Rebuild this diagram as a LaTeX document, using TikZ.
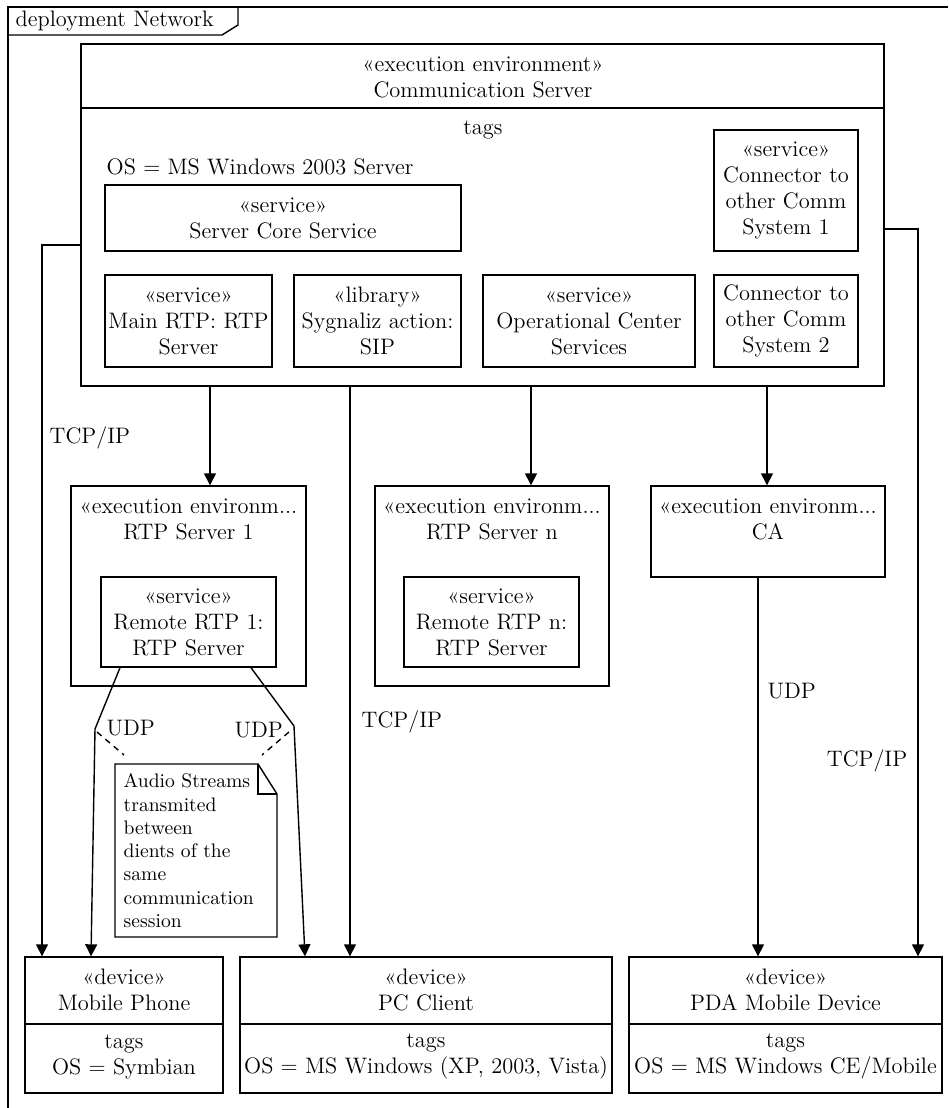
\documentclass[tikz,border=0pt]{standalone}
\usepackage{fontspec}
\usetikzlibrary{arrows.meta,fit,calc}
\begin{document}
\begin{tikzpicture}[x=0.5pt,y=-0.5pt,
  line width=0.7pt,
  box/.style={draw, inner sep=0pt},
  txt/.style={inner sep=0pt, align=center, font=\fontsize{11.2}{13}\selectfont},
  lbl/.style={inner sep=0pt, anchor=west, font=\fontsize{11.2}{13}\selectfont},
  notetxt/.style={inner sep=0pt, anchor=north west, align=left, font=\fontsize{9.8}{11.65}\selectfont},
  arr/.style={-{Triangle[length=6pt,width=6pt]}},
  dsh/.style={dash pattern=on 3pt off 2.5pt},
]
\useasboundingbox (0,0) rectangle (948,1108);
% frame
\draw (8,1108) -- (8,7) -- (948,7);
\draw (8,35) -- (222,35) -- (238,25) -- (238,7);
\node[lbl] (title) at (15,21) {deployment Network};

% Communication server
\node[box, fit={(81,44)(884,386)}] (cs) {};
\draw (cs.north west |- 0,108) -- (cs.north east |- 0,108);
\node[txt] (cst) at (483,77) {«execution environment»\\Communication Server};
\node[txt] (cstags) at (483,130) {tags};
\node[lbl] (csos) at (106,167) {OS = MS Windows 2003 Server};

\node[box, fit={(105,185)(461,251)}] (core) {};
\node[txt] at (core.center) (coret) {«service»\\Server Core Service};
\node[box, fit={(714,130)(858,251)}] (con1) {};
\node[txt] at (con1.center) (con1t) {«service»\\Connector to\\other Comm\\System 1};

\node[box, fit={(105,275)(272,367)}] (mrtp) {};
\node[txt] at (mrtp.center) (mrtpt) {«service»\\Main RTP: RTP\\Server};
\node[box, fit={(294,275)(461,367)}] (lib) {};
\node[txt] at (lib.center) (libt) {«library»\\Sygnaliz action:\\SIP};
\node[box, fit={(483,275)(695,367)}] (ops) {};
\node[txt] at (ops.center) (opst) {«service»\\Operational Center\\Services};
\node[box, fit={(714,275)(858,367)}] (con2) {};
\node[txt] at (con2.center) (con2t) {Connector to\\other Comm\\System 2};

% RTP servers
\node[box, fit={(71,486)(306,686)}] (rtp1) {};
\node[txt] (rtp1t) at (188.5,519) {«execution environm...\\RTP Server 1};
\node[box, fit={(101,577)(276,667)}] (rr1) {};
\node[txt] at (rr1.center) (rr1t) {«service»\\Remote RTP 1:\\RTP Server};

\node[box, fit={(375,486)(609,686)}] (rtpn) {};
\node[txt] (rtpnt) at (492,519) {«execution environm...\\RTP Server n};
\node[box, fit={(404,577)(579,667)}] (rrn) {};
\node[txt] at (rrn.center) (rrnt) {«service»\\Remote RTP n:\\RTP Server};

\node[box, fit={(651,486)(885,577)}] (ca) {};
\node[txt] (cat) at (768,519) {«execution environm...\\CA};

% devices
\node[box, fit={(25,957)(223,1093)}] (mob) {};
\draw (mob.west |- 0,1024) -- (mob.east |- 0,1024);
\node[txt] (mobt) at (124,990) {«device»\\Mobile Phone};
\node[txt] (mobg) at (124,1056.5) {tags\\OS = Symbian};

\node[box, fit={(240,957)(612,1093)}] (pc) {};
\draw (pc.west |- 0,1024) -- (pc.east |- 0,1024);
\node[txt] (pct) at (426,990) {«device»\\PC Client};
\node[txt] (pcg) at (426,1056.5) {tags\\OS = MS Windows (XP, 2003, Vista)};

\node[box, fit={(629,957)(942,1093)}] (pda) {};
\draw (pda.west |- 0,1024) -- (pda.east |- 0,1024);
\node[txt] (pdat) at (785.5,990) {«device»\\PDA Mobile Device};
\node[txt] (pdag) at (785.5,1056.5) {tags\\OS = MS Windows CE/Mobile};

% note
\draw (115,764) -- (258,764) -- (277,794) -- (277,937) -- (115,937) -- cycle;
\draw (258,764) -- (258,794) -- (277,794);
\node[notetxt] (note) at (123,773) {Audio Streams\\transmited\\between\\dients of the\\same\\communication\\session};

% connectors
\draw[arr] (cs.west |- 0,245) -- (42,245) -- (mob.north -| 42,0);
\draw[arr] (cs.east |- 0,229) -- (918,229) -- (pda.north -| 918,0);
\draw[arr] (cs.south -| 210,0) -- (rtp1.north -| 210,0);
\draw[arr] (cs.south -| 531,0) -- (rtpn.north -| 531,0);
\draw[arr] (cs.south -| 767,0) -- (ca.north -| 767,0);
\draw[arr] (cs.south -| 350,0) -- (pc.north -| 350,0);
\draw[arr] (ca.south -| 758,0) -- (pda.north -| 758,0);
\coordinate (b1) at (95,729);
\coordinate (b2) at (294,726);
\draw[arr] (rr1.south -| 120,0) -- (b1) -- (mob.north -| 91,0);
\draw[arr] (rr1.south -| 251,0) -- (b2) -- (pc.north -| 305,0);
\coordinate (n1) at (124,755);
\coordinate (n2) at (262,755);
\draw[dsh] ($(b1)+(2,3)$) -- (n1);
\draw[dsh] ($(b2)+(-5,6)$) -- (n2);

% labels
\node[lbl] (l1) at (49,438) {TCP/IP};
\node[lbl] (l2) at (361,722) {TCP/IP};
\node[lbl] (l3) at (767,691) {UDP};
\node[lbl, anchor=east] (l4) at (908,761) {TCP/IP};
\node[lbl] (l5) at (106,728) {UDP};
\node[lbl] (l6) at (234,730) {UDP};
\end{tikzpicture}
\end{document}
